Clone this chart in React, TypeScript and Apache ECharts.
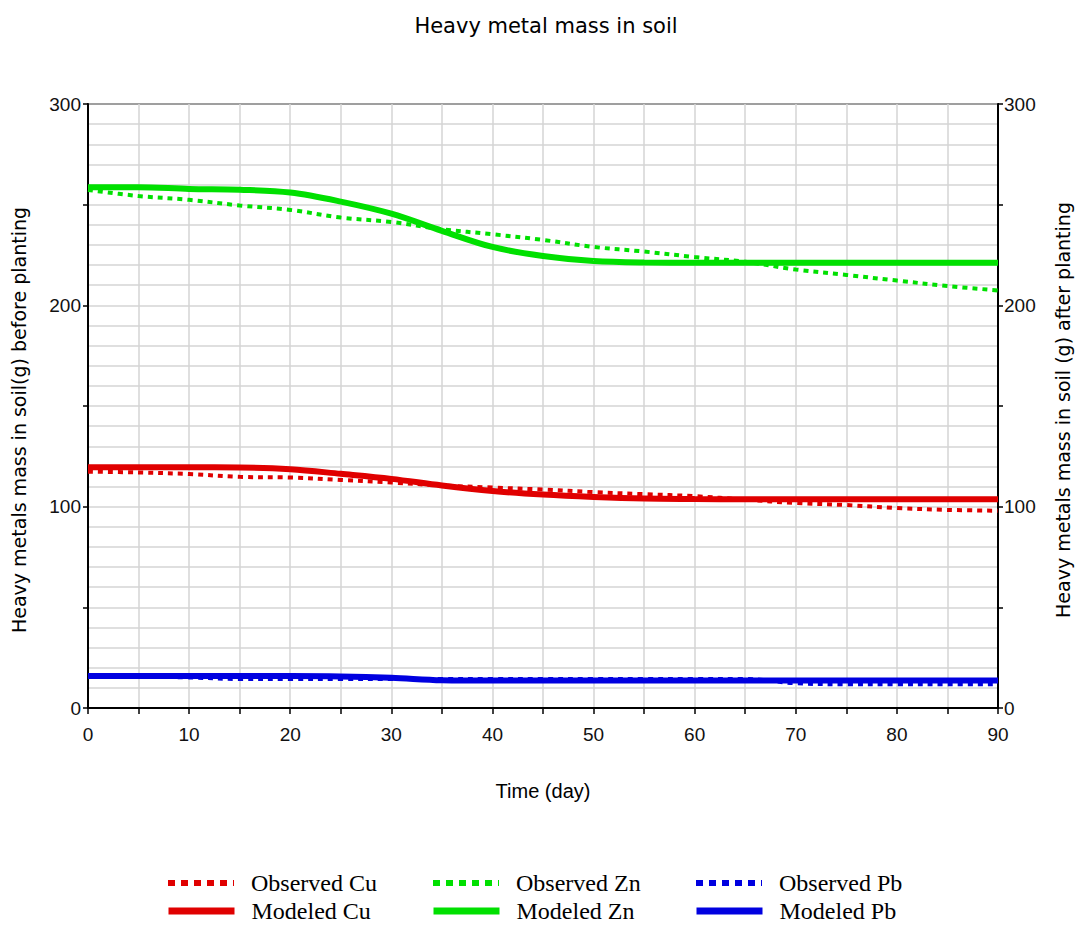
import React, { useEffect, useRef } from "react";
import * as echarts from "echarts";

const days = [0, 5, 10, 15, 20, 25, 30, 35, 40, 45, 50, 55, 60, 65, 70, 75, 80, 85, 90];
const observedCu = [117.4, 117, 116.2, 114.8, 114.5, 113.3, 112, 110.5, 109.5, 108.5, 107.2, 106.2, 105.2, 103.5, 101.8, 100.8, 99.3, 98.4, 98];
const observedZn = [257.3, 254.3, 252.4, 249.6, 247.4, 243.6, 241.4, 237.8, 235.3, 232.5, 229, 226.7, 224, 221.6, 217.8, 215.1, 212.3, 209.6, 207.4];
const observedPb = [15.6, 15.6, 15.2, 14.4, 14.4, 14.4, 14.4, 14.4, 14.4, 14.4, 14.4, 14.4, 14.4, 14.4, 12.3, 11.8, 11.8, 11.8, 11.8];
const modeledCu = [119.6, 119.6, 119.6, 119.5, 118.6, 116.3, 113.8, 110.5, 107.8, 106, 104.8, 104, 103.8, 103.7, 103.7, 103.7, 103.7, 103.7, 103.7];
const modeledZn = [258.7, 258.7, 257.8, 257.4, 256, 251.5, 245.5, 237, 229, 224.5, 222, 221.3, 221.2, 221.2, 221.2, 221.2, 221.2, 221.2, 221.2];
const modeledPb = [15.9, 15.9, 15.9, 15.9, 15.9, 15.7, 15, 13.8, 13.6, 13.6, 13.6, 13.6, 13.6, 13.6, 13.6, 13.6, 13.6, 13.6, 13.6];

const titleText = "Heavy metal mass in soil";
const xName = "Time (day)";
const yLeftName = "Heavy metals mass in soil(g) before planting";
const yRightName = "Heavy metals mass in soil (g) after planting";

const RED = "#e00000";
const GREEN = "#00e000";
const BLUE = "#0000e0";

const pairs = (vals: number[]) => days.map((d, i) => [d, vals[i]]);

export default function App() {
  const ref = useRef<HTMLDivElement>(null);
  useEffect(() => {
    if (!ref.current) return;
    const chart = echarts.init(ref.current, undefined, { renderer: "svg" });
    const sans = "Liberation Sans";
    const wide = "DejaVu Sans";
    const gridLine = { show: true, lineStyle: { color: "#d4d4d4", width: 1.5 } };
    const yAxisBase = {
      type: "value",
      min: 0,
      max: 300,
      interval: 50,
      nameLocation: "middle",
      axisLine: { show: true, lineStyle: { color: "#000", width: 2 } },
      axisTick: { show: true, length: 5, lineStyle: { color: "#000", width: 1.5 } },
      axisLabel: {
        fontFamily: sans,
        fontSize: 19,
        color: "#111",
        formatter: (v: number) => (v % 100 === 0 ? String(v) : ""),
      },
      splitLine: gridLine,
      minorTick: { show: false, splitNumber: 5 },
      minorSplitLine: gridLine,
    };
    const obs = (name: string, color: string, vals: number[]) => ({
      name,
      type: "line",
      data: pairs(vals),
      smooth: 0.35,
      symbol: "none",
      showSymbol: false,
      z: 4,
      itemStyle: { color },
      lineStyle: { color, width: 4, type: [5, 5] },
    });
    const mod = (name: string, color: string, vals: number[]) => ({
      name,
      type: "line",
      data: pairs(vals),
      smooth: 0.35,
      symbol: "none",
      showSymbol: false,
      z: 3,
      itemStyle: { color },
      lineStyle: { color, width: 6 },
    });
    const legendBase = (name: string, left: number, top: number, dashed: boolean) => ({
      data: [name],
      left,
      top,
      padding: 0,
      itemWidth: 66,
      itemHeight: 20,
      itemStyle: { opacity: 0 },
      lineStyle: dashed ? { width: 6, type: [7, 6], opacity: 1 } : { width: 7, opacity: 1 },
      textStyle: {
        fontFamily: "Liberation Serif",
        fontSize: 24,
        lineHeight: 26,
        color: "#000",
        padding: [0, 0, 0, 12],
      },
      selectedMode: false,
    });
    chart.setOption({
      animation: false,
      backgroundColor: "#fff",
      title: {
        text: titleText,
        left: 541,
        textAlign: "center",
        top: 10,
        textStyle: { fontFamily: wide, fontSize: 21, fontWeight: "normal", color: "#000" },
      },
      grid: {
        left: 88,
        right: 80,
        top: 104,
        bottom: 218,
        show: true,
        borderColor: "#000",
        borderWidth: 2,
        backgroundColor: "#fff",
        outerBoundsMode: "none",
        containLabel: false,
      },
      legend: [
        legendBase("Observed Cu", 165, 870, true),
        legendBase("Observed Zn", 430, 870, true),
        legendBase("Observed Pb", 693, 870, true),
        legendBase("Modeled Cu", 165, 898, false),
        legendBase("Modeled Zn", 430, 898, false),
        legendBase("Modeled Pb", 693, 898, false),
      ],
      xAxis: {
        type: "value",
        min: 0,
        max: 90,
        interval: 5,
        name: xName,
        nameLocation: "middle",
        nameGap: 73,
        nameTextStyle: { fontFamily: sans, fontSize: 20, color: "#000" },
        axisLine: { show: true, lineStyle: { color: "#000", width: 2 } },
        axisTick: { show: true, length: 6, lineStyle: { color: "#000", width: 1.5 } },
        axisLabel: {
          fontFamily: sans,
          fontSize: 19,
          color: "#111",
          margin: 17,
          formatter: (v: number) => (v % 10 === 0 ? String(v) : ""),
        },
        splitLine: gridLine,
      },
      yAxis: [
        {
          ...yAxisBase,
          position: "left",
          name: yLeftName,
          nameGap: 60,
          nameTextStyle: { fontFamily: wide, fontSize: 19, color: "#000", padding: [0, 28, 0, 0] },
          axisLabel: { ...yAxisBase.axisLabel, margin: 7 },
        },
        {
          ...yAxisBase,
          position: "right",
          name: yRightName,
          nameGap: 55,
          nameTextStyle: { fontFamily: wide, fontSize: 19, color: "#000", padding: [0, 8, 0, 0] },
          axisLabel: { ...yAxisBase.axisLabel, margin: 6 },
          splitLine: { show: false },
          minorSplitLine: { show: false },
        },
      ],
      series: [
        mod("Modeled Cu", RED, modeledCu),
        mod("Modeled Zn", GREEN, modeledZn),
        mod("Modeled Pb", BLUE, modeledPb),
        obs("Observed Cu", RED, observedCu),
        obs("Observed Zn", GREEN, observedZn),
        obs("Observed Pb", BLUE, observedPb),
      ],
    });
    return () => chart.dispose();
  }, []);
  return (
    <div
      ref={ref}
      style={{ position: "absolute", left: 0, top: 0, width: 1078, height: 926 }}
    />
  );
}
